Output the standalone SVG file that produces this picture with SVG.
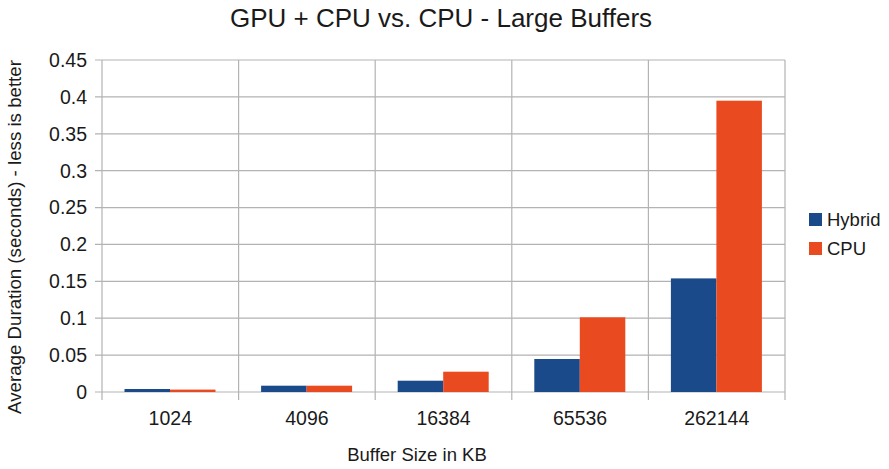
<svg xmlns="http://www.w3.org/2000/svg" width="889" height="469" viewBox="0 0 889 469">
<style>
text{font-family:"Liberation Sans",Arial,sans-serif;fill:#1a1a1a}
.grid{stroke:#b3b3b3;stroke-width:1.2;fill:none}
.yl{font-size:19.5px;text-anchor:end}
.xl{font-size:19.5px;text-anchor:middle}
.h{fill:#1b4a8a}
.c{fill:#ea4a20}
.lg{font-size:18.5px}
</style>
<rect width="889" height="469" fill="#fff"/>
<text x="441" y="27" font-size="26" text-anchor="middle">GPU + CPU vs. CPU - Large Buffers</text>
<g id="gridlines" class="grid">
<path d="M95 60H785M95 96.9H785M95 133.8H785M95 170.7H785M95 207.6H785M95 244.4H785M95 281.3H785M95 318.2H785M95 355.1H785M95 392H785"/>
<path d="M102 60V400M238.6 60V400M375.2 60V400M511.8 60V400M648.4 60V400M785 60V400"/>
</g>
<g id="yticks">
<text class="yl" x="87" y="67">0.45</text>
<text class="yl" x="87" y="104">0.4</text>
<text class="yl" x="87" y="141">0.35</text>
<text class="yl" x="87" y="178">0.3</text>
<text class="yl" x="87" y="214">0.25</text>
<text class="yl" x="87" y="251">0.2</text>
<text class="yl" x="87" y="288">0.15</text>
<text class="yl" x="87" y="325">0.1</text>
<text class="yl" x="87" y="362">0.05</text>
<text class="yl" x="87" y="399">0</text>
</g>
<g id="bars">
<rect class="h" x="124.5" y="389" width="45.5" height="3"/>
<rect class="c" x="170" y="389.6" width="45.5" height="2.4"/>
<rect class="h" x="261.1" y="385.7" width="45.5" height="6.3"/>
<rect class="c" x="306.6" y="385.7" width="45.5" height="6.3"/>
<rect class="h" x="397.7" y="380.7" width="45.5" height="11.3"/>
<rect class="c" x="443.2" y="371.7" width="45.5" height="20.3"/>
<rect class="h" x="534.3" y="359" width="45.5" height="33"/>
<rect class="c" x="579.8" y="317.3" width="45.5" height="74.7"/>
<rect class="h" x="670.9" y="278.4" width="45.5" height="113.6"/>
<rect class="c" x="716.4" y="100.7" width="45.5" height="291.3"/>
</g>
<g id="xticks">
<text class="xl" x="170.3" y="425">1024</text>
<text class="xl" x="306.9" y="425">4096</text>
<text class="xl" x="443.5" y="425">16384</text>
<text class="xl" x="580.1" y="425">65536</text>
<text class="xl" x="716.7" y="425">262144</text>
</g>
<text x="417" y="461" font-size="18.5" text-anchor="middle">Buffer Size in KB</text>
<text transform="translate(21 237) rotate(-90)" font-size="18.7" text-anchor="middle">Average Duration (seconds) - less is better</text>
<g id="legend">
<rect class="h" x="809" y="213" width="13" height="13"/>
<text class="lg" x="827" y="226">Hybrid</text>
<rect class="c" x="809" y="242" width="13" height="13"/>
<text class="lg" x="827" y="255">CPU</text>
</g>
</svg>
